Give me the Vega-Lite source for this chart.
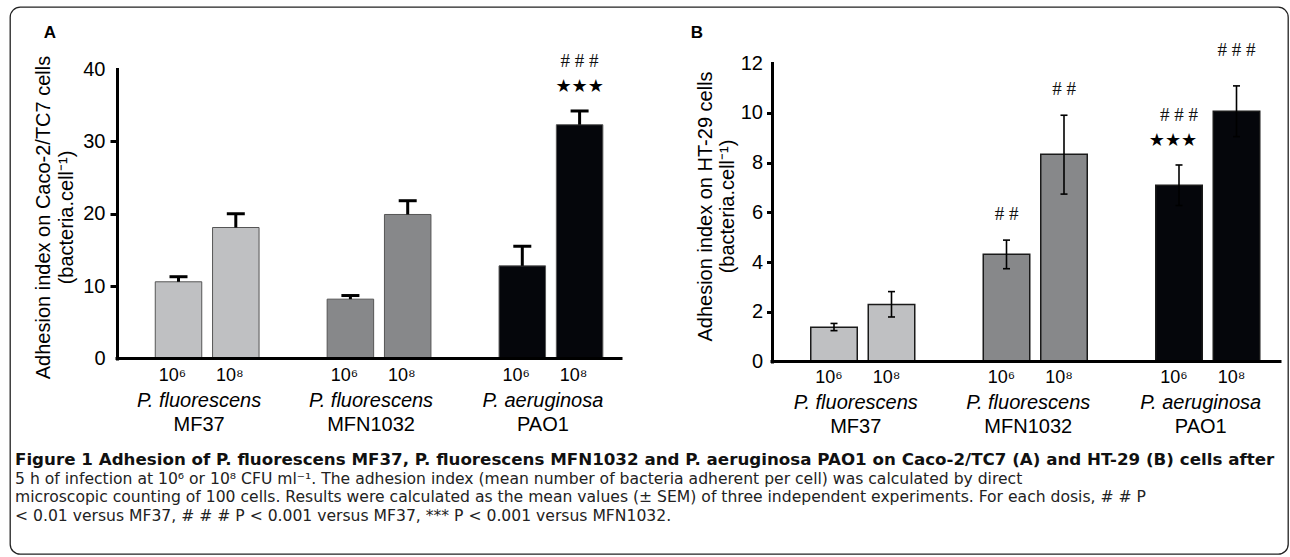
{
  "$schema": "https://vega.github.io/schema/vega-lite/v6.json",
  "width": 1278,
  "height": 547,
  "autosize": {"type": "none"},
  "padding": {"left": 10, "top": 7, "right": 2, "bottom": 3},
  "background": "white",
  "config": {
    "view": {"stroke": "#222222", "strokeWidth": 1.3, "cornerRadius": 10},
    "font": "Liberation Sans",
    "text": {"font": "Liberation Sans", "color": "black"}
  },
  "title": {
    "text": "Figure 1 Adhesion of P. fluorescens MF37, P. fluorescens MFN1032 and P. aeruginosa PAO1 on Caco-2/TC7 (A) and HT-29 (B) cells after",
    "subtitle": [
      "5 h of infection at 10⁶ or 10⁸ CFU ml⁻¹. The adhesion index (mean number of bacteria adherent per cell) was calculated by direct",
      "microscopic counting of 100 cells. Results were calculated as the mean values (± SEM) of three independent experiments. For each dosis, # # P",
      "< 0.01 versus MF37, # # # P < 0.001 versus MF37, *** P < 0.001 versus MFN1032."
    ],
    "orient": "bottom",
    "anchor": "start",
    "frame": "group",
    "offset": -102.2,
    "dx": 5,
    "font": "DejaVu Sans",
    "fontSize": 16.7,
    "fontWeight": "bold",
    "color": "#111111",
    "subtitleFont": "DejaVu Sans",
    "subtitleFontSize": 15.6,
    "subtitleColor": "#222222",
    "subtitleLineHeight": 18.3,
    "subtitlePadding": 3.5
  },
  "datasets": {
    "a": [
      {"strain": "MF37", "dose": "10⁶", "value": 10.6, "upper": 11.3},
      {"strain": "MF37", "dose": "10⁸", "value": 18.1, "upper": 20.0},
      {"strain": "MFN1032", "dose": "10⁶", "value": 8.2, "upper": 8.7},
      {"strain": "MFN1032", "dose": "10⁸", "value": 19.9, "upper": 21.8},
      {"strain": "PAO1", "dose": "10⁶", "value": 12.8, "upper": 15.5},
      {"strain": "PAO1", "dose": "10⁸", "value": 32.3, "upper": 34.2, "hash": "# # #", "star": "★★★"}
    ],
    "b": [
      {"strain": "MF37", "dose": "10⁶", "value": 1.38, "lower": 1.24, "upper": 1.53},
      {"strain": "MF37", "dose": "10⁸", "value": 2.29, "lower": 1.79, "upper": 2.81},
      {"strain": "MFN1032", "dose": "10⁶", "value": 4.31, "lower": 3.73, "upper": 4.88, "hash": "# #"},
      {"strain": "MFN1032", "dose": "10⁸", "value": 8.33, "lower": 6.73, "upper": 9.9, "hash": "# #"},
      {"strain": "PAO1", "dose": "10⁶", "value": 7.09, "lower": 6.27, "upper": 7.9, "hash": "# # #", "star": "★★★"},
      {"strain": "PAO1", "dose": "10⁸", "value": 10.06, "lower": 9.04, "upper": 11.08, "hash": "# # #"}
    ],
    "groups": [
      {"strain": "MF37", "species": "P. fluorescens"},
      {"strain": "MFN1032", "species": "P. fluorescens"},
      {"strain": "PAO1", "species": "P. aeruginosa"}
    ]
  },
  "layer": [
    {
      "data": {"name": "a"},
      "mark": {"type": "bar", "width": 46.5, "stroke": "#555555", "strokeWidth": 1},
      "encoding": {
        "x": {"field": "strain", "type": "nominal", "scale": {"type": "band", "domain": ["MF37", "MFN1032", "PAO1"], "range": [139.85, 598.25], "paddingInner": 0.333333, "paddingOuter": 0}, "axis": null},
        "xOffset": {"field": "dose", "type": "nominal", "scale": {"type": "band", "domain": ["10⁶", "10⁸"], "paddingInner": 0, "paddingOuter": 0}},
        "y": {"field": "value", "type": "quantitative", "stack": null, "scale": {"domain": [0, 40], "range": [351.5, 62], "nice": false, "zero": false},
          "axis": {
            "orient": "left", "offset": -107, "grid": false,
            "domain": true, "domainWidth": 3, "domainColor": "black", "domainCap": "square",
            "values": [0, 10, 20, 30, 40],
            "tickSize": 7, "tickWidth": 3, "tickColor": "black",
            "tickOpacity": {"condition": {"test": "datum.value == 0 || datum.value == 40", "value": 0}, "value": 1},
            "labelFontSize": 20, "labelColor": "black", "labelFont": "Liberation Sans", "labelPadding": 5,
            "title": ["Adhesion index on Caco-2/TC7 cells", "(bacteria.cell⁻¹)"],
            "titleFont": "Liberation Sans", "titleFontSize": 20, "titleFontWeight": "normal", "titleColor": "black",
            "titleLineHeight": 23, "titleAngle": -90, "titleAlign": "center", "titleBaseline": "middle",
            "titleX": -74, "titleY": 210
          }
        },
        "y2": {"datum": 0},
        "color": {"field": "strain", "type": "nominal", "scale": {"domain": ["MF37", "MFN1032", "PAO1"], "range": ["#bfc0c2", "#87888a", "#05060b"]}, "legend": null}
      }
    },
    {
      "data": {"name": "a"},
      "mark": {"type": "rule", "strokeWidth": 3, "color": "black"},
      "encoding": {
        "x": {"field": "strain", "type": "nominal", "scale": {"type": "band", "domain": ["MF37", "MFN1032", "PAO1"], "range": [139.85, 598.25], "paddingInner": 0.333333, "paddingOuter": 0}, "axis": null},
        "xOffset": {"field": "dose", "type": "nominal", "scale": {"type": "band", "domain": ["10⁶", "10⁸"], "paddingInner": 0, "paddingOuter": 0}},
        "y": {"field": "value", "type": "quantitative", "scale": {"domain": [0, 40], "range": [351.5, 62], "nice": false, "zero": false}, "axis": null},
        "y2": {"field": "upper"}
      }
    },
    {
      "data": {"name": "a"},
      "mark": {"type": "tick", "thickness": 3, "size": 18, "color": "black", "opacity": 1},
      "encoding": {
        "x": {"field": "strain", "type": "nominal", "scale": {"type": "band", "domain": ["MF37", "MFN1032", "PAO1"], "range": [139.85, 598.25], "paddingInner": 0.333333, "paddingOuter": 0}, "axis": null},
        "xOffset": {"field": "dose", "type": "nominal", "scale": {"type": "band", "domain": ["10⁶", "10⁸"], "paddingInner": 0, "paddingOuter": 0}},
        "y": {"field": "upper", "type": "quantitative", "scale": {"domain": [0, 40], "range": [351.5, 62], "nice": false, "zero": false}, "axis": null}
      }
    },
    {
      "data": {"name": "a"},
      "transform": [{"filter": "datum.hash && datum.star"}],
      "mark": {"type": "text", "dy": -50, "font": "Liberation Serif", "fontSize": 19, "color": "#111111"},
      "encoding": {
        "x": {"field": "strain", "type": "nominal", "scale": {"type": "band", "domain": ["MF37", "MFN1032", "PAO1"], "range": [139.85, 598.25], "paddingInner": 0.333333, "paddingOuter": 0}, "axis": null},
        "xOffset": {"field": "dose", "type": "nominal", "scale": {"type": "band", "domain": ["10⁶", "10⁸"], "paddingInner": 0, "paddingOuter": 0}},
        "y": {"field": "upper", "type": "quantitative", "scale": {"domain": [0, 40], "range": [351.5, 62], "nice": false, "zero": false}, "axis": null},
        "text": {"field": "hash"}
      }
    },
    {
      "data": {"name": "a"},
      "transform": [{"filter": "datum.star"}],
      "mark": {"type": "text", "dy": -24, "font": "DejaVu Sans", "fontSize": 18, "color": "black"},
      "encoding": {
        "x": {"field": "strain", "type": "nominal", "scale": {"type": "band", "domain": ["MF37", "MFN1032", "PAO1"], "range": [139.85, 598.25], "paddingInner": 0.333333, "paddingOuter": 0}, "axis": null},
        "xOffset": {"field": "dose", "type": "nominal", "scale": {"type": "band", "domain": ["10⁶", "10⁸"], "paddingInner": 0, "paddingOuter": 0}},
        "y": {"field": "upper", "type": "quantitative", "scale": {"domain": [0, 40], "range": [351.5, 62], "nice": false, "zero": false}, "axis": null},
        "text": {"field": "star"}
      }
    },
    {
      "data": {"name": "a"},
      "mark": {"type": "text", "dy": 17, "dx": -6, "fontSize": 18},
      "encoding": {
        "x": {"field": "strain", "type": "nominal", "scale": {"type": "band", "domain": ["MF37", "MFN1032", "PAO1"], "range": [139.85, 598.25], "paddingInner": 0.333333, "paddingOuter": 0}, "axis": null},
        "xOffset": {"field": "dose", "type": "nominal", "scale": {"type": "band", "domain": ["10⁶", "10⁸"], "paddingInner": 0, "paddingOuter": 0}},
        "y": {"datum": 0, "type": "quantitative", "scale": {"domain": [0, 40], "range": [351.5, 62], "nice": false, "zero": false}, "axis": null},
        "text": {"field": "dose"}
      }
    },
    {
      "data": {"name": "groups"},
      "mark": {"type": "text", "dy": 42.5, "dx": -8, "fontSize": 20, "fontStyle": "italic"},
      "encoding": {
        "x": {"field": "strain", "type": "nominal", "scale": {"type": "band", "domain": ["MF37", "MFN1032", "PAO1"], "range": [139.85, 598.25], "paddingInner": 0.333333, "paddingOuter": 0}, "axis": null},
        "y": {"datum": 0, "type": "quantitative", "scale": {"domain": [0, 40], "range": [351.5, 62], "nice": false, "zero": false}, "axis": null},
        "text": {"field": "species"}
      }
    },
    {
      "data": {"name": "groups"},
      "mark": {"type": "text", "dy": 66.5, "dx": -8, "fontSize": 20},
      "encoding": {
        "x": {"field": "strain", "type": "nominal", "scale": {"type": "band", "domain": ["MF37", "MFN1032", "PAO1"], "range": [139.85, 598.25], "paddingInner": 0.333333, "paddingOuter": 0}, "axis": null},
        "y": {"datum": 0, "type": "quantitative", "scale": {"domain": [0, 40], "range": [351.5, 62], "nice": false, "zero": false}, "axis": null},
        "text": {"field": "strain"}
      }
    },
    {
      "data": {"values": [{}]},
      "mark": {"type": "rule", "strokeWidth": 3, "color": "black", "strokeCap": "square"},
      "encoding": {
        "x": {"datum": "MF37", "type": "nominal", "bandPosition": -0.2866, "scale": {"type": "band", "domain": ["MF37", "MFN1032", "PAO1"], "range": [139.85, 598.25], "paddingInner": 0.333333, "paddingOuter": 0}, "axis": null},
        "x2": {"datum": "PAO1", "bandPosition": 1.1113},
        "y": {"datum": 0, "type": "quantitative", "scale": {"domain": [0, 40], "range": [351.5, 62], "nice": false, "zero": false}, "axis": null}
      }
    },
    {
      "data": {"values": [{"panel": "A"}]},
      "mark": {"type": "text", "fontSize": 17, "fontWeight": "bold"},
      "encoding": {
        "x": {"datum": "MF37", "type": "nominal", "bandPosition": -0.8713, "scale": {"type": "band", "domain": ["MF37", "MFN1032", "PAO1"], "range": [139.85, 598.25], "paddingInner": 0.333333, "paddingOuter": 0}, "axis": null},
        "y": {"datum": 45, "type": "quantitative", "scale": {"domain": [0, 40], "range": [351.5, 62], "nice": false, "zero": false}, "axis": null},
        "text": {"field": "panel"}
      }
    },
    {
      "data": {"name": "b"},
      "mark": {"type": "bar", "width": 46.5, "stroke": "#1a1a1a", "strokeWidth": 1.5},
      "encoding": {
        "x": {"field": "strain", "type": "nominal", "scale": {"type": "band", "domain": ["MF37", "MFN1032", "PAO1"], "range": [795.25, 1255.25], "paddingInner": 0.333333, "paddingOuter": 0}, "axis": null},
        "xOffset": {"field": "dose", "type": "nominal", "scale": {"type": "band", "domain": ["10⁶", "10⁸"], "paddingInner": 0, "paddingOuter": 0}},
        "y": {"field": "value", "type": "quantitative", "stack": null, "scale": {"domain": [0, 12], "range": [354.5, 56], "nice": false, "zero": false},
          "axis": {
            "orient": "left", "offset": -762, "grid": false,
            "domain": true, "domainWidth": 3, "domainColor": "black", "domainCap": "square",
            "values": [0, 2, 4, 6, 8, 10, 12],
            "tickSize": 5.5, "tickWidth": 3, "tickColor": "black",
            "tickOpacity": {"condition": {"test": "datum.value == 0 || datum.value == 12", "value": 0}, "value": 1},
            "labelFontSize": 20, "labelColor": "black", "labelFont": "Liberation Sans", "labelPadding": 4,
            "title": ["Adhesion index on HT-29 cells", "(bacteria.cell⁻¹)"],
            "titleFont": "Liberation Sans", "titleFontSize": 20, "titleFontWeight": "normal", "titleColor": "black",
            "titleLineHeight": 22, "titleAngle": -90, "titleAlign": "center", "titleBaseline": "middle",
            "titleX": -67, "titleY": 199
          }
        },
        "y2": {"datum": 0},
        "color": {"field": "strain", "type": "nominal", "scale": {"domain": ["MF37", "MFN1032", "PAO1"], "range": ["#bfc0c2", "#87888a", "#05060b"]}, "legend": null}
      }
    },
    {
      "data": {"name": "b"},
      "mark": {"type": "rule", "strokeWidth": 1.6, "color": "black"},
      "encoding": {
        "x": {"field": "strain", "type": "nominal", "scale": {"type": "band", "domain": ["MF37", "MFN1032", "PAO1"], "range": [795.25, 1255.25], "paddingInner": 0.333333, "paddingOuter": 0}, "axis": null},
        "xOffset": {"field": "dose", "type": "nominal", "scale": {"type": "band", "domain": ["10⁶", "10⁸"], "paddingInner": 0, "paddingOuter": 0}},
        "y": {"field": "lower", "type": "quantitative", "scale": {"domain": [0, 12], "range": [354.5, 56], "nice": false, "zero": false}, "axis": null},
        "y2": {"field": "upper"}
      }
    },
    {
      "data": {"name": "b"},
      "mark": {"type": "tick", "thickness": 1.6, "size": 7, "color": "black", "opacity": 1},
      "encoding": {
        "x": {"field": "strain", "type": "nominal", "scale": {"type": "band", "domain": ["MF37", "MFN1032", "PAO1"], "range": [795.25, 1255.25], "paddingInner": 0.333333, "paddingOuter": 0}, "axis": null},
        "xOffset": {"field": "dose", "type": "nominal", "scale": {"type": "band", "domain": ["10⁶", "10⁸"], "paddingInner": 0, "paddingOuter": 0}},
        "y": {"field": "upper", "type": "quantitative", "scale": {"domain": [0, 12], "range": [354.5, 56], "nice": false, "zero": false}, "axis": null}
      }
    },
    {
      "data": {"name": "b"},
      "mark": {"type": "tick", "thickness": 1.6, "size": 7, "color": "black", "opacity": 1},
      "encoding": {
        "x": {"field": "strain", "type": "nominal", "scale": {"type": "band", "domain": ["MF37", "MFN1032", "PAO1"], "range": [795.25, 1255.25], "paddingInner": 0.333333, "paddingOuter": 0}, "axis": null},
        "xOffset": {"field": "dose", "type": "nominal", "scale": {"type": "band", "domain": ["10⁶", "10⁸"], "paddingInner": 0, "paddingOuter": 0}},
        "y": {"field": "lower", "type": "quantitative", "scale": {"domain": [0, 12], "range": [354.5, 56], "nice": false, "zero": false}, "axis": null}
      }
    },
    {
      "data": {"name": "b"},
      "transform": [{"filter": "datum.hash && datum.star"}],
      "mark": {"type": "text", "dy": -50, "font": "Liberation Serif", "fontSize": 19, "color": "#111111"},
      "encoding": {
        "x": {"field": "strain", "type": "nominal", "scale": {"type": "band", "domain": ["MF37", "MFN1032", "PAO1"], "range": [795.25, 1255.25], "paddingInner": 0.333333, "paddingOuter": 0}, "axis": null},
        "xOffset": {"field": "dose", "type": "nominal", "scale": {"type": "band", "domain": ["10⁶", "10⁸"], "paddingInner": 0, "paddingOuter": 0}},
        "y": {"field": "upper", "type": "quantitative", "scale": {"domain": [0, 12], "range": [354.5, 56], "nice": false, "zero": false}, "axis": null},
        "text": {"field": "hash"}
      }
    },
    {
      "data": {"name": "b"},
      "transform": [{"filter": "datum.hash == '# #'"}],
      "mark": {"type": "text", "dy": -26, "font": "Liberation Serif", "fontSize": 19, "color": "#111111"},
      "encoding": {
        "x": {"field": "strain", "type": "nominal", "scale": {"type": "band", "domain": ["MF37", "MFN1032", "PAO1"], "range": [795.25, 1255.25], "paddingInner": 0.333333, "paddingOuter": 0}, "axis": null},
        "xOffset": {"field": "dose", "type": "nominal", "scale": {"type": "band", "domain": ["10⁶", "10⁸"], "paddingInner": 0, "paddingOuter": 0}},
        "y": {"field": "upper", "type": "quantitative", "scale": {"domain": [0, 12], "range": [354.5, 56], "nice": false, "zero": false}, "axis": null},
        "text": {"field": "hash"}
      }
    },
    {
      "data": {"name": "b"},
      "transform": [{"filter": "datum.hash == '# # #' && !datum.star"}],
      "mark": {"type": "text", "dy": -36, "font": "Liberation Serif", "fontSize": 19, "color": "#111111"},
      "encoding": {
        "x": {"field": "strain", "type": "nominal", "scale": {"type": "band", "domain": ["MF37", "MFN1032", "PAO1"], "range": [795.25, 1255.25], "paddingInner": 0.333333, "paddingOuter": 0}, "axis": null},
        "xOffset": {"field": "dose", "type": "nominal", "scale": {"type": "band", "domain": ["10⁶", "10⁸"], "paddingInner": 0, "paddingOuter": 0}},
        "y": {"field": "upper", "type": "quantitative", "scale": {"domain": [0, 12], "range": [354.5, 56], "nice": false, "zero": false}, "axis": null},
        "text": {"field": "hash"}
      }
    },
    {
      "data": {"name": "b"},
      "transform": [{"filter": "datum.star"}],
      "mark": {"type": "text", "dy": -24, "dx": -6, "font": "DejaVu Sans", "fontSize": 18, "color": "black"},
      "encoding": {
        "x": {"field": "strain", "type": "nominal", "scale": {"type": "band", "domain": ["MF37", "MFN1032", "PAO1"], "range": [795.25, 1255.25], "paddingInner": 0.333333, "paddingOuter": 0}, "axis": null},
        "xOffset": {"field": "dose", "type": "nominal", "scale": {"type": "band", "domain": ["10⁶", "10⁸"], "paddingInner": 0, "paddingOuter": 0}},
        "y": {"field": "upper", "type": "quantitative", "scale": {"domain": [0, 12], "range": [354.5, 56], "nice": false, "zero": false}, "axis": null},
        "text": {"field": "star"}
      }
    },
    {
      "data": {"name": "b"},
      "mark": {"type": "text", "dy": 16, "dx": -5, "fontSize": 18},
      "encoding": {
        "x": {"field": "strain", "type": "nominal", "scale": {"type": "band", "domain": ["MF37", "MFN1032", "PAO1"], "range": [795.25, 1255.25], "paddingInner": 0.333333, "paddingOuter": 0}, "axis": null},
        "xOffset": {"field": "dose", "type": "nominal", "scale": {"type": "band", "domain": ["10⁶", "10⁸"], "paddingInner": 0, "paddingOuter": 0}},
        "y": {"datum": 0, "type": "quantitative", "scale": {"domain": [0, 12], "range": [354.5, 56], "nice": false, "zero": false}, "axis": null},
        "text": {"field": "dose"}
      }
    },
    {
      "data": {"name": "groups"},
      "mark": {"type": "text", "dy": 41, "dx": -7, "fontSize": 20, "fontStyle": "italic"},
      "encoding": {
        "x": {"field": "strain", "type": "nominal", "scale": {"type": "band", "domain": ["MF37", "MFN1032", "PAO1"], "range": [795.25, 1255.25], "paddingInner": 0.333333, "paddingOuter": 0}, "axis": null},
        "y": {"datum": 0, "type": "quantitative", "scale": {"domain": [0, 12], "range": [354.5, 56], "nice": false, "zero": false}, "axis": null},
        "text": {"field": "species"}
      }
    },
    {
      "data": {"name": "groups"},
      "mark": {"type": "text", "dy": 65, "dx": -7, "fontSize": 20},
      "encoding": {
        "x": {"field": "strain", "type": "nominal", "scale": {"type": "band", "domain": ["MF37", "MFN1032", "PAO1"], "range": [795.25, 1255.25], "paddingInner": 0.333333, "paddingOuter": 0}, "axis": null},
        "y": {"datum": 0, "type": "quantitative", "scale": {"domain": [0, 12], "range": [354.5, 56], "nice": false, "zero": false}, "axis": null},
        "text": {"field": "strain"}
      }
    },
    {
      "data": {"values": [{}]},
      "mark": {"type": "rule", "strokeWidth": 3, "color": "black", "strokeCap": "square"},
      "encoding": {
        "x": {"datum": "MF37", "type": "nominal", "bandPosition": -0.2891, "scale": {"type": "band", "domain": ["MF37", "MFN1032", "PAO1"], "range": [795.25, 1255.25], "paddingInner": 0.333333, "paddingOuter": 0}, "axis": null},
        "x2": {"datum": "PAO1", "bandPosition": 1.1283},
        "y": {"datum": 0, "type": "quantitative", "scale": {"domain": [0, 12], "range": [354.5, 56], "nice": false, "zero": false}, "axis": null}
      }
    },
    {
      "data": {"values": [{"panel": "B"}]},
      "mark": {"type": "text", "fontSize": 17, "fontWeight": "bold"},
      "encoding": {
        "x": {"datum": "MF37", "type": "nominal", "bandPosition": -0.9413, "scale": {"type": "band", "domain": ["MF37", "MFN1032", "PAO1"], "range": [795.25, 1255.25], "paddingInner": 0.333333, "paddingOuter": 0}, "axis": null},
        "y": {"datum": 13.21, "type": "quantitative", "scale": {"domain": [0, 12], "range": [354.5, 56], "nice": false, "zero": false}, "axis": null},
        "text": {"field": "panel"}
      }
    }
  ],
  "resolve": {
    "scale": {"x": "independent", "y": "independent", "xOffset": "independent"},
    "axis": {"x": "independent", "y": "independent"}
  }
}
